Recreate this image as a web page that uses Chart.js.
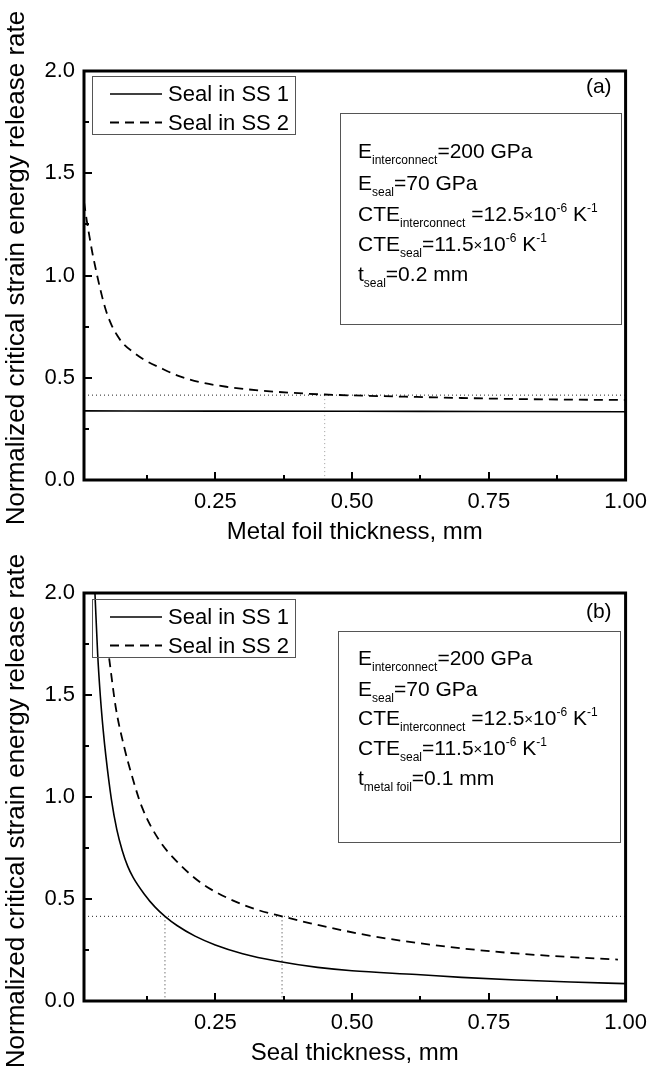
<!DOCTYPE html>
<html><head><meta charset="utf-8">
<script src="https://cdn.jsdelivr.net/npm/chart.js@4.4.1/dist/chart.umd.min.js"></script>
<style>
html,body{margin:0;padding:0;background:#fff;}
#wrap{position:relative;width:656px;height:1068px;background:#fff;}
canvas{position:absolute;left:0;top:0;}
</style></head><body>
<div id="wrap"><canvas id="ca" width="656" height="1068"></canvas><canvas id="cb" width="656" height="1068"></canvas></div>
<script>
// ---------- data ----------
const seriesNames = ['Seal in SS 1', 'Seal in SS 2'];
const xTickVals = [0.25, 0.50, 0.75, 1.00];
const yTickVals = [0.0, 0.5, 1.0, 1.5, 2.0];
const xRange = [0.01, 1.0];
const yRange = [0, 2];

// Panel (a): metal foil thickness
const aSS1X = [0.01, 0.25, 0.50, 0.75, 1.00];
const aSS1Y = [0.338, 0.337, 0.336, 0.335, 0.334];
const aSS2X = [0.01, 0.015, 0.02, 0.025, 0.03, 0.04, 0.05, 0.06, 0.07, 0.08, 0.10, 0.12, 0.15, 0.18, 0.22, 0.27, 0.33, 0.418, 0.45, 0.618, 0.80, 1.00];
const aSS2Y = [1.36, 1.27, 1.19, 1.115, 1.05, 0.93, 0.83, 0.76, 0.71, 0.672, 0.625, 0.588, 0.548, 0.512, 0.48, 0.456, 0.438, 0.422, 0.418, 0.406, 0.396, 0.391];
const aRefLevel = 0.415;
const aCross = [0.45];

// Panel (b): seal thickness
const bSS1X = [0.030, 0.035, 0.04, 0.045, 0.05, 0.06, 0.07, 0.08, 0.09, 0.10, 0.12, 0.14, 0.158, 0.18, 0.213, 0.25, 0.30, 0.364, 0.437, 0.50, 0.618, 0.70, 0.80, 0.90, 1.00];
const bSS1Y = [2.0, 1.70, 1.49, 1.33, 1.20, 0.99, 0.84, 0.737, 0.66, 0.605, 0.525, 0.46, 0.415, 0.37, 0.318, 0.275, 0.232, 0.195, 0.165, 0.148, 0.13, 0.116, 0.103, 0.093, 0.085];
const bSS2X = [0.056, 0.068, 0.083, 0.098, 0.116, 0.147, 0.183, 0.225, 0.274, 0.328, 0.372, 0.424, 0.527, 0.618, 0.708, 0.80, 0.889, 0.986];
const bSS2Y = [1.68, 1.44, 1.25, 1.10, 0.95, 0.79, 0.675, 0.577, 0.503, 0.446, 0.415, 0.381, 0.323, 0.285, 0.256, 0.233, 0.217, 0.203];
const bRefLevel = 0.415;
const bCross = [0.158, 0.372];

// ---------- text ----------
const yTitle = 'Normalized critical strain energy release rate';
const aXTitle = 'Metal foil thickness, mm';
const bXTitle = 'Seal thickness, mm';
const aNote = [
  [['E','n'],['interconnect','b'],['=200 GPa','n']],
  [['E','n'],['seal','b'],['=70 GPa','n']],
  [['CTE','n'],['interconnect','b'],[' =12.5','n'],['\u00d7','x'],['10','n'],['-6','p'],[' K','n'],['-1','p']],
  [['CTE','n'],['seal','b'],['=11.5','n'],['\u00d7','x'],['10','n'],['-6','p'],[' K','n'],['-1','p']],
  [['t','n'],['seal','b'],['=0.2 mm','n']]
];
const bNote = [
  [['E','n'],['interconnect','b'],['=200 GPa','n']],
  [['E','n'],['seal','b'],['=70 GPa','n']],
  [['CTE','n'],['interconnect','b'],[' =12.5','n'],['\u00d7','x'],['10','n'],['-6','p'],[' K','n'],['-1','p']],
  [['CTE','n'],['seal','b'],['=11.5','n'],['\u00d7','x'],['10','n'],['-6','p'],[' K','n'],['-1','p']],
  [['t','n'],['metal foil','b'],['=0.1 mm','n']]
];

const FAM = "'Liberation Sans', Arial, Helvetica, sans-serif";
const pts = (xs, ys) => xs.map((x, i) => ({x, y: ys[i]}));

function drawRich(ctx, x, y, runs) {
  for (const [t, k] of runs) {
    let size = 21, dy = 0;
    if (k === 'b') { size = 12; dy = 6; }
    else if (k === 'p') { size = 12; dy = -9; }
    else if (k === 'x') { size = 15; dy = -1; }
    ctx.font = size + 'px ' + FAM;
    ctx.fillText(t, x, y + dy);
    x += ctx.measureText(t).width;
  }
}

const framePlugin = {
  id: 'frame',
  afterDatasetsDraw(chart, args, o) {
    const {ctx, chartArea: ca, scales: {x, y}} = chart;
    ctx.save();
    ctx.strokeStyle = '#000';
    // inward ticks
    ctx.lineWidth = 2;
    ctx.beginPath();
    for (let v = 0; v <= 2.0001; v += 0.25) {
      const py = Math.round(y.getPixelForValue(v));
      const len = (Math.abs(v * 2 - Math.round(v * 2)) < 1e-6) ? 8 : 5;
      ctx.moveTo(ca.left, py); ctx.lineTo(ca.left + len, py);
    }
    for (let v = 0.125; v <= 1.0001; v += 0.125) {
      const px = Math.round(x.getPixelForValue(v));
      const len = (Math.abs(v * 4 - Math.round(v * 4)) < 1e-6) ? 8 : 5;
      ctx.moveTo(px, ca.bottom); ctx.lineTo(px, ca.bottom - len);
    }
    ctx.stroke();
    // frame
    ctx.lineWidth = 3;
    ctx.strokeRect(ca.left, ca.top, ca.right - ca.left, ca.bottom - ca.top);

    // y axis title (rotated)
    ctx.save();
    ctx.fillStyle = '#000';
    ctx.font = '26px ' + FAM;
    ctx.textAlign = 'center';
    ctx.textBaseline = 'middle';
    ctx.translate(o.yTitle.x, o.yTitle.y);
    ctx.rotate(-Math.PI / 2);
    ctx.fillText(yTitle, 0, 0);
    ctx.restore();

    // legend
    const lg = o.legend;
    ctx.lineWidth = 1;
    ctx.strokeStyle = '#555';
    ctx.strokeRect(lg.x + 0.5, ca.top + lg.dy + 0.5, lg.w, lg.h);
    ctx.fillStyle = '#000';
    ctx.font = '22px ' + FAM;
    ctx.textBaseline = 'middle';
    chart.data.datasets.slice(0, 2).forEach((ds, i) => {
      const ry = ca.top + lg.row0 + i * 28.5;
      ctx.save();
      ctx.strokeStyle = '#000';
      ctx.lineWidth = ds.borderWidth;
      ctx.setLineDash(ds.borderDash || []);
      ctx.beginPath(); ctx.moveTo(lg.x + 18, ry); ctx.lineTo(lg.x + 70, ry); ctx.stroke();
      ctx.restore();
      ctx.fillText(ds.label, lg.x + 76, ry + 1);
    });

    // panel letter
    ctx.textAlign = 'right';
    ctx.textBaseline = 'middle';
    ctx.font = '21px ' + FAM;
    ctx.fillText(o.letter, ca.right - 14, ca.top + o.letterDy);

    // note box
    const nb = o.note;
    ctx.strokeStyle = '#555';
    ctx.lineWidth = 1;
    ctx.strokeRect(nb.x + 0.5, ca.top + nb.dy + 0.5, nb.w, nb.h);
    ctx.textAlign = 'left';
    ctx.textBaseline = 'alphabetic';
    nb.lines.forEach((runs, i) => drawRich(ctx, nb.tx, ca.top + nb.base[i], runs));
    ctx.restore();
  }
};

function makeChart(id, datasets, xTitle, padTop, padBottom, frameOpts) {
  return new Chart(document.getElementById(id), {
    type: 'line',
    data: {datasets},
    options: {
      responsive: false,
      animation: false,
      events: [],
      layout: {padding: {left: 0, right: 23, top: padTop, bottom: padBottom}},
      plugins: {legend: {display: false}, tooltip: {enabled: false}, frame: frameOpts},
      elements: {point: {radius: 0}},
      scales: {
        x: {
          type: 'linear', min: xRange[0], max: xRange[1],
          afterBuildTicks: s => { s.ticks = xTickVals.map(v => ({value: v})); },
          afterFit: s => { s.height = 67; },
          grid: {display: false, drawTicks: false},
          border: {display: false},
          ticks: {callback: v => Number(v).toFixed(2), font: {family: FAM, size: 22}, color: '#000', padding: 9, maxRotation: 0, autoSkip: false},
          title: {display: true, text: xTitle, font: {family: FAM, size: 24}, color: '#000', padding: {top: 0, bottom: 0}}
        },
        y: {
          type: 'linear', min: yRange[0], max: yRange[1],
          afterBuildTicks: s => { s.ticks = yTickVals.map(v => ({value: v})); },
          afterFit: s => { s.width = 84; },
          grid: {display: false, drawTicks: false},
          border: {display: false},
          ticks: {callback: v => Number(v).toFixed(1), font: {family: FAM, size: 22}, color: '#000', padding: 9},
          title: {display: false}
        }
      }
    },
    plugins: [framePlugin]
  });
}

function datasetsFor(s1x, s1y, s2x, s2y, ref, cross, crossColor) {
  const ds = [
    {label: seriesNames[0], data: pts(s1x, s1y), borderColor: '#000', borderWidth: 1.6, cubicInterpolationMode: 'monotone', fill: false},
    {label: seriesNames[1], data: pts(s2x, s2y), borderColor: '#000', borderWidth: 1.8, borderDash: [9, 6], cubicInterpolationMode: 'monotone', fill: false},
    {label: 'ref', data: [{x: xRange[0], y: ref}, {x: xRange[1], y: ref}], borderColor: '#222', borderWidth: 1, borderDash: [1, 3], fill: false}
  ];
  cross.forEach(c => ds.push({label: 'cross', data: [{x: c, y: ref}, {x: c, y: yRange[0]}], borderColor: crossColor, borderWidth: 1, borderDash: [1, 3], fill: false}));
  return ds;
}

makeChart('ca', datasetsFor(aSS1X, aSS1Y, aSS2X, aSS2Y, aRefLevel, aCross, '#999'), aXTitle, 71, 1068 - 547, {
  yTitle: {x: 17, y: 268},
  legend: {x: 92, dy: 5, w: 203, h: 58, row0: 23},
  letter: '(a)', letterDy: 16,
  note: {x: 340, dy: 42, w: 281, h: 211, tx: 358, base: [87, 119, 150, 180, 210], lines: aNote}
});
makeChart('cb', datasetsFor(bSS1X, bSS1Y, bSS2X, bSS2Y, bRefLevel, bCross, '#333'), bXTitle, 593, 0, {
  yTitle: {x: 17, y: 811},
  legend: {x: 92, dy: 6, w: 203, h: 58, row0: 24},
  letter: '(b)', letterDy: 19,
  note: {x: 338, dy: 38, w: 282, h: 211, tx: 358, base: [72, 103, 132, 162, 192], lines: bNote}
});
</script>
</body></html>
